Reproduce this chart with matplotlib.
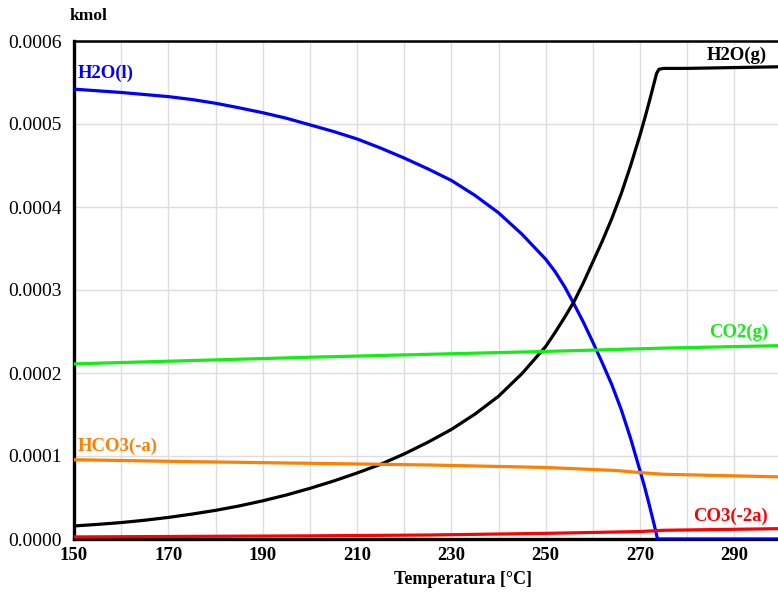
import matplotlib
matplotlib.use("Agg")
import matplotlib.pyplot as plt
from matplotlib.ticker import FormatStrFormatter, MultipleLocator

plt.rcParams['font.family'] = ['Liberation Serif', 'DejaVu Serif']

# H2O(l)
t_h2ol = [150, 155, 160, 165, 170, 175, 180, 185, 190, 195, 200, 205, 210, 215,
          220, 225, 230, 235, 240, 245, 250, 252, 254, 256, 258, 260, 262, 264,
          266, 268, 270, 271, 272, 273, 273.7, 280, 290, 300]
v_h2ol = [0.000542, 0.000540, 0.000538, 0.0005355, 0.000533, 0.0005295, 0.000525,
          0.0005195, 0.0005136, 0.000507, 0.000499, 0.000491, 0.000482, 0.000471,
          0.000459, 0.000446, 0.000432, 0.000414, 0.000393, 0.000367, 0.000337,
          0.000322, 0.000304, 0.000283, 0.000261, 0.000237, 0.000212, 0.000186,
          0.000156, 0.000121, 0.000082, 0.000062, 0.000040, 0.000017, 0.0,
          0.0, 0.0, 0.0]

# H2O(g)
t_h2og = [150, 155, 160, 165, 170, 175, 180, 185, 190, 195, 200, 205, 210, 215,
          220, 225, 230, 235, 240, 245, 250, 252, 254, 256, 258, 260, 262, 264,
          266, 268, 270, 271, 272, 273, 273.5, 274, 275, 280, 290, 300]
v_h2og = [0.0000157, 0.0000176, 0.0000198, 0.0000226, 0.0000260, 0.0000300,
          0.0000345, 0.0000398, 0.0000460, 0.0000530, 0.0000610, 0.0000698,
          0.0000795, 0.0000900, 0.0001025, 0.0001165, 0.000132, 0.0001505,
          0.000172, 0.0001995, 0.000232, 0.000249, 0.000267, 0.000286, 0.000309,
          0.000334, 0.000359, 0.000386, 0.000416, 0.000450, 0.000487, 0.000507,
          0.000528, 0.000550, 0.000561, 0.000566, 0.000567, 0.000567,
          0.000568, 0.000569]

# CO2(g)
t_co2 = [150, 200, 250, 275, 300]
v_co2 = [0.000211, 0.000219, 0.000226, 0.000230, 0.000233]

# HCO3(-a)
t_hco3 = [150, 175, 200, 225, 250, 265, 270, 275, 300]
v_hco3 = [0.0000955, 0.0000932, 0.0000912, 0.0000892, 0.0000862, 0.0000825,
          0.0000800, 0.0000780, 0.0000748]

# CO3(-2a)
t_co3 = [150, 200, 225, 250, 270, 275, 300]
v_co3 = [0.0000025, 0.0000038, 0.0000048, 0.0000068, 0.0000090, 0.0000105,
         0.0000125]

W, H = 778, 595
fig = plt.figure(figsize=(W / 100, H / 100), dpi=100)
left_px, right_px, top_px, bot_px = 74, 781.6, 41, 539
ax = fig.add_axes([left_px / W, 1 - bot_px / H, (right_px - left_px) / W,
                   (bot_px - top_px) / H])

lw = 2.3
kw = dict(lw=lw, zorder=3, solid_joinstyle='round', solid_capstyle='round')
ax.plot(t_h2ol, v_h2ol, color='#0000ff', **kw)
ax.plot(t_h2og, v_h2og, color='black', **kw)
ax.plot(t_co2, v_co2, color='#11ee11', **kw)
ax.plot(t_hco3, v_hco3, color='#ff8000', **kw)
ax.plot(t_co3, v_co3, color='#ff0000', **kw)

ax.set_xlim(150, 300)
ax.set_ylim(0, 0.0006)
ax.xaxis.set_minor_locator(MultipleLocator(10))
ax.yaxis.set_major_locator(MultipleLocator(0.0001))
ax.yaxis.set_major_formatter(FormatStrFormatter('%.4f'))
ax.set_xticks([150, 170, 190, 210, 230, 250, 270, 290])
ax.grid(True, which='both', axis='x', color='#dddddd', lw=1)
ax.grid(True, which='major', axis='y', color='#dddddd', lw=1)
ax.set_axisbelow(True)
ax.tick_params(which='both', length=0)
ax.tick_params(axis='x', pad=6, labelsize=13.5)
ax.tick_params(axis='y', pad=9, labelsize=14)
for lab in ax.get_xticklabels():
    lab.set_fontweight('bold')

for s in ['left', 'bottom']:
    ax.spines[s].set_linewidth(2.4)
ax.spines['top'].set_linewidth(1.8)
ax.spines['right'].set_visible(False)

fig.text(463 / W, 1 - 580 / H, 'Temperatura [°C]', fontsize=13, fontweight='bold',
         ha='center', va='center')
fig.text(88 / W, 1 - 16 / H, 'kmol', fontsize=12.5, fontweight='bold',
         ha='center', va='center')

fs = 13.5
ax.text(150.8, 0.000561, 'H2O(l)', color='#0000ff', fontsize=fs, fontweight='bold',
        ha='left', va='center')
ax.text(296.9, 0.000583, 'H2O(g)', color='black', fontsize=fs, fontweight='bold',
        ha='right', va='center', zorder=5,
        bbox=dict(facecolor='white', edgecolor='none', pad=1))
ax.text(297.1, 0.0002494, 'CO2(g)', color='#11ee11', fontsize=fs, fontweight='bold',
        ha='right', va='center')
ax.text(150.8, 0.000112, 'HCO3(-a)', color='#ff8000', fontsize=fs, fontweight='bold',
        ha='left', va='center')
ax.text(297.1, 0.0000277, 'CO3(-2a)', color='#ff0000', fontsize=fs, fontweight='bold',
        ha='right', va='center')

fig.savefig('out.png', dpi=100)
